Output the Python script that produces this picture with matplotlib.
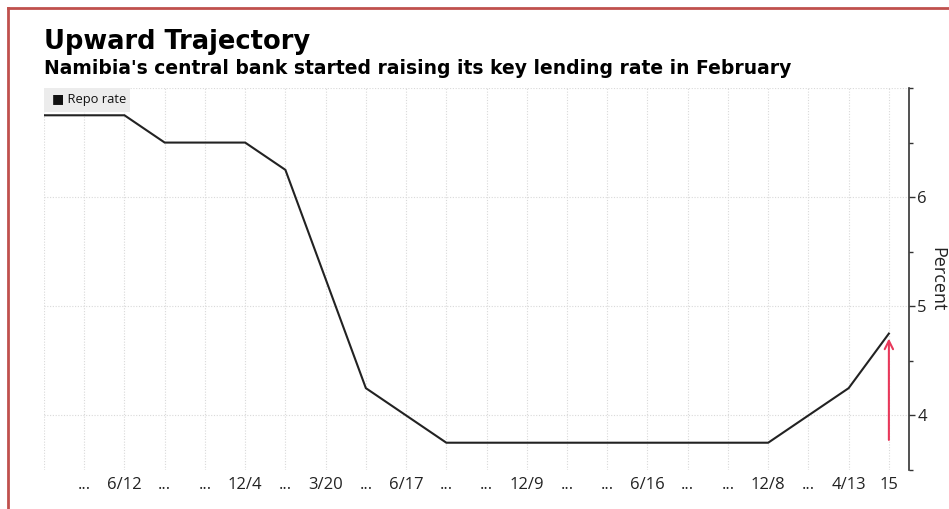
import matplotlib
matplotlib.use("Agg")
import matplotlib.pyplot as plt
from matplotlib.lines import Line2D
from matplotlib.patches import Rectangle
from matplotlib.ticker import FixedLocator, NullFormatter

# ---- data ----
x_labels = ["", "...", "6/12", "...", "...", "12/4", "...", "3/20", "...", "6/17", "...",
            "...", "12/9", "...", "...", "6/16", "...", "...", "12/8", "...", "4/13", "15"]
repo_rate = [6.75, 6.75, 6.75, 6.5, 6.5, 6.5, 6.25, 5.25, 4.25, 4.0, 3.75,
             3.75, 3.75, 3.75, 3.75, 3.75, 3.75, 3.75, 3.75, 4.0, 4.25, 4.75]
y_major = [4, 5, 6]
y_minor = [3.5, 4.5, 5.5, 6.5, 7.0]
arrow_from = 3.75
arrow_to = 4.73

FAM = ["Open Sans", "DejaVu Sans"]

W, H = 949, 509
fig = plt.figure(figsize=(W / 100, H / 100), dpi=100)
fig.patch.set_facecolor("white")

L, R, T, B = 44, 909, 88, 470
ax = fig.add_axes([L / W, (H - B) / H, (R - L) / W, (B - T) / H])
ax.set_facecolor("white")

xs = list(range(len(repo_rate)))
ax.plot(xs, repo_rate, color="#222222", lw=1.5, solid_joinstyle="miter", zorder=3)

ax.set_xlim(0, 21.5)
ax.set_ylim(3.5, 7.0)

# grid
for xi in xs:
    ax.axvline(xi, color="#d9d9d9", lw=0.8, ls=(0, (1, 1.5)), zorder=1)
for yv in [4, 5, 6, 7]:
    ax.axhline(yv, color="#d9d9d9", lw=0.8, ls=(0, (1, 1.5)), zorder=1)

# x ticks
ax.set_xticks(xs)
ax.set_xticklabels(x_labels, fontsize=12, color="#222222", family=FAM)
ax.tick_params(axis="x", length=0, pad=5)

# y axis on right
ax.yaxis.tick_right()
ax.yaxis.set_label_position("right")
ax.set_yticks(y_major)
ax.set_yticklabels([str(v) for v in y_major], fontsize=12, color="#222222", family=FAM)
ax.yaxis.set_minor_locator(FixedLocator(y_minor))
ax.yaxis.set_minor_formatter(NullFormatter())
ax.tick_params(axis="y", which="major", length=4, width=1, color="#333333", pad=2, direction="out")
ax.tick_params(axis="y", which="minor", length=3, width=1, color="#333333", direction="out")
ax.set_ylabel("Percent", rotation=-90, fontsize=13, color="#222222", family=FAM, labelpad=14)

for s in ["top", "left", "bottom"]:
    ax.spines[s].set_visible(False)
ax.spines["right"].set_color("#333333")
ax.spines["right"].set_linewidth(1.2)

# legend box
pw, ph = R - L, B - T
ax.add_patch(Rectangle((0, 1 - 24 / ph), 86 / pw, 24 / ph, transform=ax.transAxes,
                       facecolor="#ececec", edgecolor="none", zorder=4, clip_on=False))
ax.text(8 / pw, 1 - 12 / ph, "\u25a0 Repo rate", transform=ax.transAxes, fontsize=9.3,
        family=FAM, color="#111111", va="center", ha="left", zorder=5)

# red arrow
ax.annotate("", xy=(21, arrow_to), xytext=(21, arrow_from),
            arrowprops=dict(arrowstyle="->,head_length=0.6,head_width=0.3",
                            color="#e8385a", lw=1.5), zorder=4)

# titles
fig.text(44 / W, 1 - 42 / H, "Upward Trajectory", fontsize=18.5, fontweight="bold",
         family="DejaVu Sans", color="black", va="center", ha="left")
fig.text(44 / W, 1 - 69 / H,
         "Namibia's central bank started raising its key lending rate in February",
         fontsize=13.5, fontweight="bold", family="DejaVu Sans", color="black",
         va="center", ha="left")

# red frame
fig.add_artist(Line2D([8 / W, 8 / W], [0, 1 - 8 / H], transform=fig.transFigure,
                      color="#c0504d", lw=2))
fig.add_artist(Line2D([8 / W, 1], [1 - 8 / H, 1 - 8 / H], transform=fig.transFigure,
                      color="#c0504d", lw=2))

fig.savefig("out.png", dpi=100)
